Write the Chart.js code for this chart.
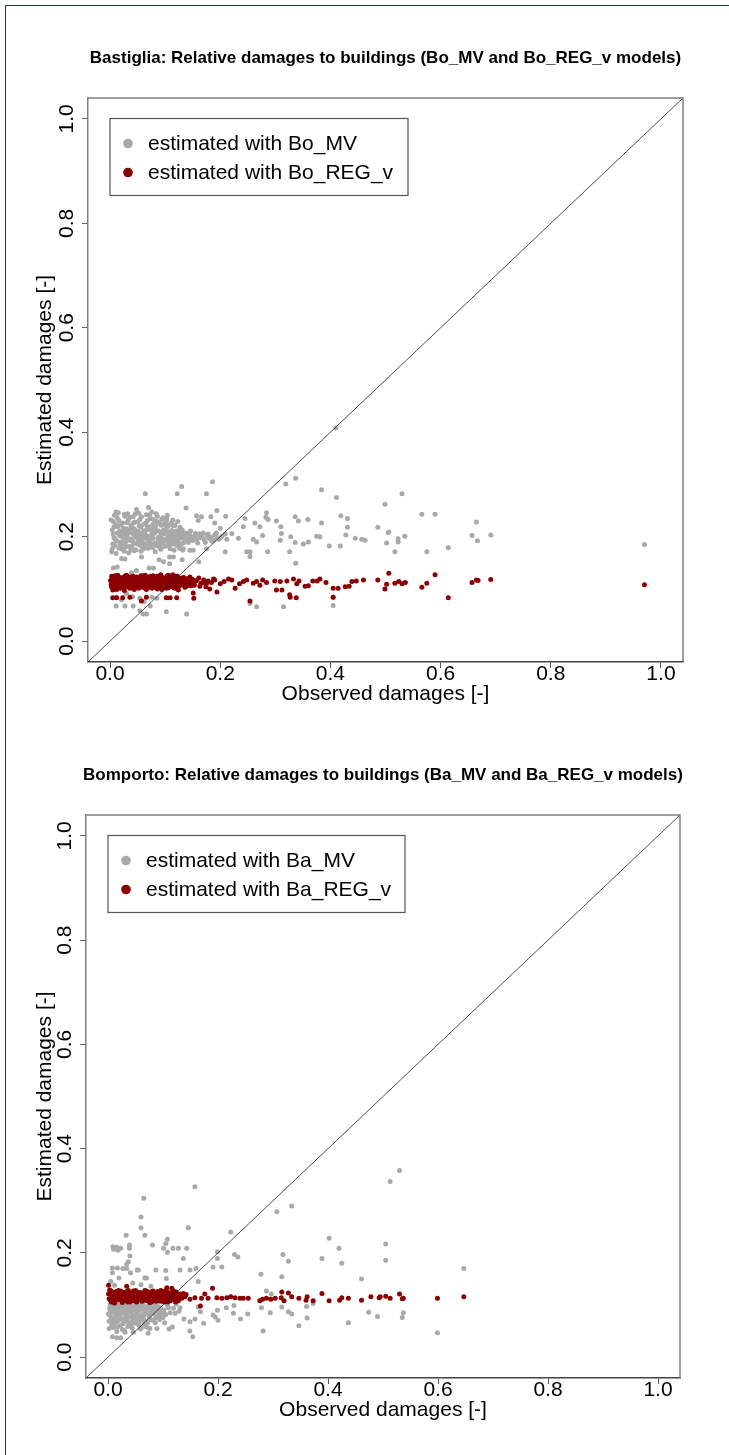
<!DOCTYPE html>
<html>
<head>
<meta charset="utf-8">
<script src="https://cdn.jsdelivr.net/npm/chart.js@4.4.1/dist/chart.umd.min.js"></script>
<style>
  html, body { margin: 0; padding: 0; background: #fff; }
  #page { position: relative; width: 729px; height: 1455px; overflow: hidden; background: #fff; }
  #frame { position: absolute; left: 5px; top: 5px; width: 800px; height: 1500px; border-left: 1px solid #1a1aff; border-top: 1px solid #1a1aff; pointer-events: none; }
  canvas { position: absolute; left: 0; }
  #c1 { top: 0; }
  #c2 { top: 720px; }
</style>
</head>
<body>
<div id="page">
  <canvas id="c1" width="729" height="720"></canvas>
  <canvas id="c2" width="729" height="735"></canvas>
  <div id="frame"></div>
</div>
<script>
// axis ticks (same for both panels and both axes)
var tickValues = [0, 0.2, 0.4, 0.6, 0.8, 1.0];
var tickLabels = ['0.0', '0.2', '0.4', '0.6', '0.8', '1.0'];
var diagonal = [[-0.04, -0.04], [1.04, 1.04]];

// Bastiglia, estimated with Bo_MV  [observed, estimated]
var bastigliaMV = [
  // dense cluster
  [0.004,0.213],[0.005,0.186],[0.006,0.229],[0.007,0.198],[0.003,0.171],[0.008,0.241],[0.006,0.205],
  [0.012,0.192],[0.014,0.219],[0.016,0.178],[0.013,0.236],[0.017,0.203],[0.015,0.246],[0.011,0.168],[0.018,0.211],
  [0.021,0.184],[0.023,0.226],[0.025,0.197],[0.027,0.239],[0.022,0.208],[0.026,0.172],[0.024,0.216],[0.028,0.189],
  [0.031,0.201],[0.033,0.232],[0.035,0.181],[0.037,0.214],[0.032,0.244],[0.036,0.193],[0.034,0.169],[0.038,0.222],
  [0.041,0.206],[0.043,0.188],[0.045,0.228],[0.047,0.175],[0.042,0.238],[0.046,0.199],[0.044,0.215],[0.048,0.252],
  [0.051,0.194],[0.053,0.221],[0.055,0.183],[0.057,0.207],[0.052,0.245],[0.056,0.172],[0.054,0.233],[0.058,0.199],
  [0.061,0.211],[0.063,0.186],[0.065,0.226],[0.067,0.196],[0.062,0.178],[0.066,0.242],[0.064,0.204],[0.068,0.218],
  [0.071,0.191],[0.073,0.235],[0.075,0.202],[0.077,0.179],[0.072,0.214],[0.076,0.247],[0.074,0.196],[0.078,0.224],
  [0.081,0.207],[0.083,0.184],[0.085,0.229],[0.087,0.198],[0.082,0.171],[0.086,0.239],[0.084,0.212],[0.088,0.193],
  [0.091,0.201],[0.093,0.222],[0.095,0.188],[0.097,0.213],[0.092,0.176],[0.096,0.236],[0.094,0.196],[0.098,0.205],
  [0.101,0.194],[0.103,0.217],[0.105,0.199],[0.107,0.182],[0.102,0.228],[0.106,0.208],[0.104,0.241],[0.108,0.191],
  [0.111,0.203],[0.113,0.186],[0.115,0.221],[0.117,0.197],[0.112,0.212],[0.116,0.174],[0.114,0.232],[0.118,0.201],
  [0.121,0.196],[0.123,0.209],[0.125,0.187],[0.127,0.218],[0.122,0.201],[0.126,0.178],[0.124,0.194],
  [0.131,0.199],[0.133,0.188],[0.135,0.206],[0.137,0.195],[0.132,0.174],[0.136,0.202],
  [0.141,0.197],[0.144,0.204],[0.147,0.193],[0.149,0.199],
  [0.153,0.201],[0.158,0.196],[0.162,0.205],[0.167,0.199],[0.171,0.194],[0.176,0.202],[0.180,0.197],[0.185,0.191],[0.190,0.203],[0.195,0.198],
  [0.009,0.196],[0.019,0.201],[0.029,0.205],[0.039,0.196],[0.049,0.202],[0.059,0.189],[0.069,0.201],[0.079,0.206],
  [0.089,0.199],[0.099,0.193],[0.109,0.204],[0.119,0.190],[0.010,0.224],[0.020,0.190],[0.030,0.215],[0.040,0.182],
  [0.050,0.211],[0.060,0.197],[0.070,0.183],[0.080,0.217],[0.090,0.186],[0.100,0.209],[0.110,0.195],[0.120,0.211],
  [0.002,0.232],[0.004,0.177],[0.007,0.219],[0.009,0.183],[0.011,0.247],[0.013,0.207],[0.016,0.231],[0.018,0.185],
  [0.019,0.223],[0.022,0.176],[0.024,0.201],[0.026,0.243],[0.028,0.212],[0.029,0.181],[0.031,0.227],[0.033,0.195],
  [0.034,0.208],[0.036,0.237],[0.038,0.176],[0.039,0.218],[0.041,0.191],[0.042,0.226],[0.044,0.173],[0.046,0.244],
  [0.047,0.209],[0.049,0.186],[0.051,0.229],[0.052,0.203],[0.054,0.192],[0.056,0.218],[0.057,0.238],[0.059,0.176],
  [0.061,0.224],[0.062,0.199],[0.064,0.186],[0.066,0.213],[0.068,0.231],[0.069,0.178],[0.071,0.219],[0.072,0.242],
  [0.074,0.186],[0.076,0.209],[0.078,0.197],[0.079,0.233],[0.081,0.188],[0.083,0.221],[0.084,0.244],[0.086,0.182],
  [0.088,0.211],[0.089,0.226],[0.091,0.178],[0.092,0.208],[0.094,0.233],[0.096,0.191],[0.098,0.224],[0.099,0.181],
  [0.101,0.213],[0.103,0.234],[0.105,0.186],[0.106,0.221],[0.108,0.203],[0.109,0.177],[0.111,0.226],[0.113,0.197],
  [0.114,0.209],[0.116,0.188],[0.118,0.222],[0.119,0.206],[0.121,0.183],[0.123,0.229],[0.124,0.212],[0.126,0.198],
  [0.128,0.205],[0.129,0.186],[0.131,0.213],[0.134,0.196],[0.138,0.207],[0.142,0.189],[0.146,0.211],[0.151,0.193],
  [0.155,0.206],[0.159,0.188],[0.164,0.198],[0.169,0.207],[0.173,0.189],[0.178,0.205],[0.183,0.199],[0.188,0.193],
  [0.193,0.207],[0.198,0.195],[0.203,0.201],
  // scattered, upper
  [0.064,0.282],[0.130,0.296],[0.122,0.282],[0.175,0.282],[0.186,0.305],[0.138,0.255],[0.070,0.256],
  [0.319,0.301],[0.337,0.312],[0.384,0.290],[0.411,0.275],[0.410,0.408],[0.530,0.282],[0.499,0.262],
  [0.566,0.243],[0.590,0.243],[0.575,0.171],[0.419,0.240],[0.431,0.235],[0.431,0.218],[0.486,0.218],
  [0.505,0.208],[0.535,0.201],[0.523,0.196],[0.502,0.188],[0.517,0.171],[0.463,0.193],[0.457,0.195],
  [0.445,0.197],[0.428,0.203],[0.418,0.182],[0.398,0.182],[0.381,0.200],[0.384,0.226],[0.375,0.201],
  [0.360,0.190],[0.351,0.186],[0.359,0.233],[0.336,0.238],[0.342,0.230],[0.328,0.200],[0.336,0.189],
  [0.326,0.171],[0.337,0.149],[0.310,0.219],[0.311,0.206],[0.309,0.193],[0.302,0.230],[0.283,0.237],
  [0.287,0.233],[0.284,0.246],[0.272,0.219],[0.277,0.202],[0.266,0.190],[0.260,0.195],[0.286,0.171],
  [0.254,0.162],[0.254,0.171],[0.248,0.171],[0.242,0.219],[0.245,0.235],[0.263,0.226],[0.209,0.171],
  [0.210,0.239],[0.194,0.250],[0.200,0.216],[0.221,0.206],[0.233,0.197],[0.212,0.195],[0.209,0.205],
  [0.161,0.152],[0.157,0.240],[0.160,0.231],[0.166,0.238],[0.183,0.238],[0.190,0.226],
  [0.665,0.228],[0.657,0.202],[0.667,0.192],[0.691,0.203],[0.614,0.179],[0.523,0.190],[0.506,0.209],[0.970,0.185],
  // between the bands
  [0.006,0.140],[0.013,0.142],[0.021,0.158],[0.027,0.157],[0.039,0.131],[0.048,0.135],[0.057,0.161],
  [0.071,0.140],[0.089,0.156],[0.079,0.140],[0.097,0.152],[0.108,0.161],[0.108,0.148],[0.115,0.161],
  [0.131,0.156],[0.133,0.177],[0.145,0.174],[0.151,0.174],[0.175,0.177],
  // lower
  [0.011,0.084],[0.011,0.067],[0.021,0.079],[0.027,0.067],[0.042,0.067],[0.054,0.058],[0.060,0.052],
  [0.066,0.052],[0.102,0.056],[0.139,0.052],[0.062,0.076],[0.073,0.067],[0.030,0.091],[0.041,0.085],
  [0.054,0.082],[0.076,0.084],[0.254,0.072],[0.266,0.066],[0.315,0.066],[0.405,0.068],[0.405,0.084],[0.085,0.082]
];

// Bastiglia, estimated with Bo_REG_v
var bastigliaREG = [
  [0.002,0.108],[0.004,0.119],[0.006,0.101],[0.008,0.114],[0.003,0.124],[0.007,0.111],[0.005,0.098],[0.009,0.105],
  [0.011,0.116],[0.013,0.103],[0.015,0.121],[0.017,0.109],[0.012,0.099],[0.016,0.113],[0.014,0.126],[0.018,0.106],
  [0.021,0.111],[0.023,0.122],[0.025,0.102],[0.027,0.117],[0.022,0.107],[0.026,0.097],[0.024,0.114],[0.028,0.125],
  [0.031,0.104],[0.033,0.118],[0.035,0.109],[0.037,0.123],[0.032,0.113],[0.036,0.101],[0.034,0.120],[0.038,0.108],
  [0.041,0.115],[0.043,0.102],[0.045,0.119],[0.047,0.107],[0.042,0.124],[0.046,0.111],[0.044,0.099],[0.048,0.116],
  [0.051,0.109],[0.053,0.121],[0.055,0.104],[0.057,0.114],[0.052,0.101],[0.056,0.125],[0.054,0.112],[0.058,0.107],
  [0.061,0.118],[0.063,0.106],[0.065,0.122],[0.067,0.110],[0.062,0.113],[0.066,0.099],[0.064,0.126],[0.068,0.116],
  [0.071,0.103],[0.073,0.117],[0.075,0.108],[0.077,0.121],[0.072,0.112],[0.076,0.101],[0.074,0.124],[0.078,0.110],
  [0.081,0.114],[0.083,0.105],[0.085,0.119],[0.087,0.109],[0.082,0.123],[0.086,0.100],[0.084,0.112],[0.088,0.117],
  [0.091,0.108],[0.093,0.120],[0.095,0.103],[0.097,0.115],[0.092,0.127],[0.096,0.111],[0.094,0.099],[0.098,0.118],
  [0.101,0.113],[0.103,0.106],[0.105,0.121],[0.107,0.109],[0.102,0.117],[0.106,0.102],[0.104,0.125],[0.108,0.111],
  [0.111,0.118],[0.113,0.104],[0.115,0.114],[0.117,0.122],[0.112,0.108],[0.116,0.111],[0.114,0.127],[0.118,0.101],
  [0.121,0.109],[0.123,0.119],[0.125,0.105],[0.127,0.115],[0.122,0.124],[0.126,0.112],[0.124,0.098],[0.128,0.120],
  [0.131,0.113],[0.133,0.107],[0.135,0.121],[0.137,0.110],[0.132,0.117],[0.136,0.103],
  [0.141,0.116],[0.143,0.109],[0.145,0.123],[0.147,0.106],
  [0.001,0.116],[0.003,0.103],[0.005,0.121],[0.007,0.109],[0.009,0.125],[0.010,0.112],[0.012,0.118],[0.014,0.107],
  [0.016,0.123],[0.018,0.114],[0.019,0.101],[0.020,0.119],[0.022,0.116],[0.024,0.104],[0.026,0.121],[0.028,0.110],
  [0.029,0.117],[0.030,0.126],[0.032,0.106],[0.034,0.113],[0.036,0.118],[0.038,0.102],[0.039,0.115],[0.040,0.109],
  [0.042,0.121],[0.044,0.112],[0.046,0.104],[0.048,0.123],[0.049,0.109],[0.050,0.117],[0.052,0.120],[0.054,0.103],
  [0.056,0.108],[0.058,0.118],[0.059,0.125],[0.060,0.111],[0.062,0.102],[0.064,0.115],[0.066,0.120],[0.068,0.105],
  [0.069,0.123],[0.070,0.113],[0.072,0.106],[0.074,0.118],[0.076,0.114],[0.078,0.125],[0.079,0.103],[0.080,0.120],
  [0.082,0.109],[0.084,0.102],[0.086,0.124],[0.088,0.106],[0.089,0.120],[0.090,0.115],[0.092,0.104],[0.094,0.117],
  [0.096,0.122],[0.098,0.107],[0.099,0.113],[0.100,0.121],[0.102,0.101],[0.104,0.116],[0.106,0.126],[0.108,0.104],
  [0.109,0.119],[0.110,0.111],[0.112,0.123],[0.114,0.109],[0.116,0.102],[0.118,0.116],[0.119,0.124],[0.120,0.113],
  [0.122,0.103],[0.124,0.117],[0.126,0.121],[0.128,0.108],[0.130,0.118],[0.133,0.122],[0.136,0.114],[0.139,0.105],
  [0.142,0.120],[0.146,0.112],[0.150,0.118],[0.153,0.107],[0.157,0.116],[0.161,0.121],[0.165,0.111],[0.170,0.117],
  [0.174,0.104],[0.178,0.115],[0.184,0.112],[0.188,0.119],
  // sparse
  [0.139,0.117],[0.148,0.110],[0.154,0.114],[0.163,0.105],[0.169,0.112],[0.175,0.110],[0.181,0.100],
  [0.190,0.117],[0.194,0.094],[0.200,0.110],[0.207,0.114],[0.215,0.119],[0.221,0.117],[0.227,0.101],
  [0.235,0.110],[0.242,0.114],[0.248,0.117],[0.260,0.111],[0.254,0.077],[0.266,0.114],[0.272,0.107],
  [0.277,0.117],[0.284,0.112],[0.299,0.115],[0.302,0.098],[0.312,0.098],[0.309,0.114],[0.321,0.115],
  [0.326,0.089],[0.327,0.084],[0.338,0.083],[0.333,0.119],[0.339,0.110],[0.343,0.115],[0.354,0.105],
  [0.360,0.106],[0.368,0.115],[0.376,0.115],[0.381,0.119],[0.392,0.112],[0.405,0.101],[0.405,0.084],
  [0.414,0.101],[0.427,0.104],[0.434,0.105],[0.439,0.114],[0.447,0.115],[0.460,0.117],[0.486,0.117],
  [0.506,0.130],[0.502,0.109],[0.499,0.100],[0.517,0.111],[0.524,0.114],[0.530,0.110],[0.536,0.112],
  [0.566,0.103],[0.575,0.111],[0.590,0.127],[0.614,0.083],[0.657,0.112],[0.665,0.117],[0.668,0.116],
  [0.691,0.118],[0.970,0.108],
  // lower row
  [0.005,0.083],[0.012,0.083],[0.023,0.083],[0.036,0.084],[0.057,0.077],[0.066,0.084],[0.102,0.083],
  [0.109,0.083],[0.121,0.083],[0.151,0.092],[0.152,0.082]
];

// Bomporto, estimated with Ba_MV
var bomportoMV = [
  // dense lower cluster
  [0.003,0.094],[0.005,0.078],[0.007,0.062],[0.004,0.101],[0.008,0.086],[0.006,0.071],[0.002,0.055],
  [0.012,0.097],[0.014,0.083],[0.016,0.068],[0.013,0.090],[0.017,0.058],[0.011,0.075],[0.018,0.102],
  [0.021,0.088],[0.023,0.073],[0.025,0.096],[0.027,0.064],[0.022,0.081],[0.026,0.053],[0.024,0.099],
  [0.031,0.092],[0.033,0.077],[0.035,0.085],[0.037,0.066],[0.032,0.100],[0.036,0.059],[0.034,0.071],
  [0.041,0.087],[0.043,0.095],[0.045,0.074],[0.047,0.081],[0.042,0.063],[0.046,0.098],[0.044,0.056],
  [0.051,0.091],[0.053,0.079],[0.055,0.100],[0.057,0.068],[0.052,0.084],[0.056,0.061],
  [0.061,0.096],[0.063,0.082],[0.065,0.072],[0.067,0.089],[0.062,0.103],[0.066,0.064],
  [0.071,0.087],[0.073,0.098],[0.075,0.077],[0.077,0.092],[0.072,0.066],
  [0.081,0.094],[0.083,0.083],[0.085,0.101],[0.087,0.075],[0.082,0.088],
  [0.091,0.097],[0.093,0.086],[0.095,0.079],[0.097,0.093],
  [0.102,0.090],[0.108,0.099],[0.113,0.085],[0.119,0.094],[0.124,0.102],[0.129,0.088],
  [0.001,0.083],[0.002,0.069],[0.004,0.088],[0.006,0.097],[0.008,0.074],[0.009,0.058],[0.010,0.091],[0.012,0.066],
  [0.014,0.100],[0.015,0.079],[0.016,0.049],[0.018,0.086],[0.019,0.071],[0.020,0.095],[0.022,0.060],[0.024,0.084],
  [0.025,0.074],[0.027,0.099],[0.028,0.089],[0.029,0.068],[0.030,0.051],[0.032,0.082],[0.034,0.093],[0.036,0.076],
  [0.038,0.088],[0.039,0.062],[0.040,0.097],[0.042,0.078],[0.044,0.069],[0.046,0.090],[0.048,0.073],[0.049,0.102],
  [0.050,0.065],[0.052,0.096],[0.054,0.072],[0.056,0.088],[0.058,0.078],[0.059,0.054],[0.060,0.092],[0.062,0.074],
  [0.064,0.100],[0.066,0.081],[0.068,0.069],[0.069,0.095],[0.070,0.058],[0.074,0.083],[0.076,0.100],[0.078,0.072],
  [0.080,0.086],[0.084,0.093],[0.086,0.066],[0.088,0.079],[0.090,0.089],[0.094,0.072],[0.098,0.085],[0.100,0.076],
  [0.105,0.082],[0.110,0.095],
  [0.008,0.039],[0.016,0.037],[0.023,0.037],[0.031,0.048],[0.046,0.048],[0.061,0.057],[0.073,0.046],
  [0.076,0.055],[0.082,0.071],[0.089,0.055],[0.097,0.077],[0.103,0.066],[0.111,0.054],[0.117,0.058],
  [0.010,0.057],[0.122,0.084],[0.131,0.095],[0.138,0.073],[0.149,0.050],[0.154,0.039],[0.149,0.068],
  [0.158,0.073],[0.164,0.096],[0.168,0.087],[0.174,0.065],[0.191,0.081],[0.200,0.071],[0.195,0.077],
  [0.199,0.090],[0.215,0.095],[0.229,0.099],[0.228,0.084],[0.241,0.073],[0.254,0.083],
  // upper
  [0.158,0.327],[0.065,0.305],[0.060,0.269],[0.060,0.248],[0.067,0.234],[0.033,0.234],[0.039,0.215],
  [0.039,0.209],[0.009,0.212],[0.016,0.211],[0.023,0.209],[0.010,0.207],[0.018,0.205],[0.040,0.194],
  [0.037,0.183],[0.034,0.178],[0.008,0.171],[0.017,0.171],[0.027,0.170],[0.034,0.170],[0.008,0.162],
  [0.041,0.162],[0.053,0.167],[0.067,0.152],[0.081,0.215],[0.101,0.209],[0.108,0.226],[0.105,0.218],
  [0.108,0.201],[0.118,0.209],[0.128,0.209],[0.143,0.209],[0.146,0.248],[0.137,0.189],[0.131,0.167],
  [0.149,0.167],[0.160,0.170],[0.164,0.145],[0.087,0.167],[0.105,0.166],[0.070,0.152],[0.078,0.136],
  [0.055,0.167],[0.106,0.151],[0.005,0.145],[0.012,0.138],[0.020,0.152],[0.045,0.142],[0.060,0.139],
  [0.191,0.173],[0.199,0.202],[0.199,0.189],[0.207,0.173],[0.223,0.240],[0.230,0.197],[0.236,0.192],
  [0.307,0.279],[0.334,0.290],[0.278,0.159],[0.288,0.127],[0.297,0.121],[0.318,0.197],[0.328,0.184],
  [0.316,0.154],[0.402,0.228],[0.420,0.209],[0.425,0.180],[0.389,0.189],[0.461,0.150],[0.505,0.217],
  [0.505,0.186],[0.513,0.337],[0.530,0.358],[0.647,0.170],
  // lower right
  [0.279,0.095],[0.295,0.085],[0.282,0.050],[0.316,0.096],[0.328,0.087],[0.334,0.083],[0.347,0.060],
  [0.362,0.075],[0.361,0.097],[0.373,0.103],[0.437,0.066],[0.474,0.086],[0.490,0.078],[0.537,0.085],
  [0.535,0.076],[0.599,0.047]
];

// Bomporto, estimated with Ba_REG_v
var bomportoREG = [
  [0.002,0.112],[0.004,0.124],[0.006,0.106],[0.008,0.118],[0.003,0.129],[0.007,0.115],
  [0.011,0.121],[0.013,0.109],[0.015,0.126],[0.017,0.113],[0.012,0.104],[0.016,0.118],
  [0.021,0.116],[0.023,0.127],[0.025,0.108],[0.027,0.121],[0.022,0.112],[0.026,0.105],
  [0.031,0.110],[0.033,0.123],[0.035,0.114],[0.037,0.128],[0.032,0.118],[0.036,0.106],
  [0.041,0.119],[0.043,0.108],[0.045,0.124],[0.047,0.112],[0.042,0.115],[0.046,0.127],
  [0.051,0.113],[0.053,0.125],[0.055,0.109],[0.057,0.119],[0.052,0.106],[0.056,0.116],
  [0.061,0.122],[0.063,0.111],[0.065,0.117],[0.067,0.128],[0.062,0.107],[0.066,0.114],
  [0.071,0.108],[0.073,0.120],[0.075,0.114],[0.077,0.125],[0.072,0.117],[0.076,0.105],
  [0.081,0.118],[0.083,0.109],[0.085,0.123],[0.087,0.113],[0.082,0.127],[0.086,0.116],
  [0.091,0.112],[0.093,0.124],[0.095,0.107],[0.097,0.119],[0.092,0.115],[0.096,0.128],
  [0.101,0.116],[0.103,0.110],[0.105,0.122],[0.107,0.113],[0.102,0.106],[0.106,0.119],
  [0.111,0.121],[0.113,0.108],[0.115,0.115],[0.117,0.124],[0.112,0.112],[0.116,0.118],
  [0.121,0.114],[0.123,0.106],[0.125,0.120],[0.127,0.111],[0.122,0.117],
  [0.001,0.121],[0.004,0.110],[0.006,0.127],[0.009,0.114],[0.010,0.106],[0.012,0.124],[0.014,0.116],[0.018,0.110],
  [0.019,0.128],[0.020,0.119],[0.024,0.113],[0.028,0.124],[0.029,0.108],[0.030,0.120],[0.034,0.126],[0.038,0.112],
  [0.039,0.120],[0.040,0.106],[0.044,0.122],[0.048,0.116],[0.049,0.108],[0.050,0.128],[0.054,0.118],[0.058,0.111],
  [0.059,0.124],[0.060,0.116],[0.064,0.109],[0.068,0.121],[0.069,0.112],[0.070,0.127],[0.074,0.110],[0.078,0.118],
  [0.079,0.106],[0.080,0.123],[0.084,0.115],[0.088,0.107],[0.089,0.121],[0.090,0.126],[0.094,0.111],[0.098,0.117],
  [0.099,0.123],[0.100,0.109],[0.104,0.127],[0.108,0.116],[0.109,0.106],[0.110,0.124],[0.114,0.118],[0.118,0.110],
  [0.119,0.127],[0.120,0.120],[0.124,0.125],[0.126,0.115],[0.128,0.108],[0.130,0.119],[0.134,0.113],[0.137,0.122],
  [0.140,0.116],
  // sparse
  [0.001,0.138],[0.034,0.136],[0.107,0.133],[0.116,0.132],[0.125,0.111],[0.131,0.121],[0.142,0.120],
  [0.149,0.111],[0.158,0.114],[0.170,0.113],[0.168,0.098],[0.176,0.121],[0.182,0.113],[0.190,0.132],
  [0.198,0.114],[0.207,0.113],[0.216,0.114],[0.223,0.116],[0.231,0.114],[0.240,0.113],[0.246,0.113],
  [0.255,0.113],[0.276,0.108],[0.281,0.111],[0.288,0.113],[0.296,0.111],[0.304,0.113],[0.315,0.114],
  [0.316,0.125],[0.320,0.108],[0.328,0.123],[0.334,0.116],[0.347,0.113],[0.360,0.109],[0.362,0.116],
  [0.373,0.108],[0.389,0.122],[0.402,0.108],[0.421,0.109],[0.425,0.114],[0.437,0.113],[0.461,0.109],
  [0.478,0.116],[0.493,0.114],[0.495,0.116],[0.505,0.117],[0.513,0.113],[0.530,0.121],[0.535,0.112],
  [0.537,0.113],[0.599,0.113],[0.647,0.116]
];

var GRAY = '#a9a9a9';
var DARKRED = '#8b0000';
var FONT = '"Liberation Sans", Arial, Helvetica, sans-serif';
var W = 729;
var XAXIS_H = 45;

Chart.defaults.font.family = FONT;
Chart.defaults.color = '#000';

function toPoints(arr){
    return arr.map(function(p){ return {x: p[0], y: p[1]}; });
}

// R-like decorations: box, rotated y labels, main title, legend
var rDecor = {
    id: 'rDecor',
    afterDraw: function(chart, args, opts){
        var ctx = chart.ctx;
        var a = chart.chartArea;
        var y = chart.scales.y;
        ctx.save();

        ctx.strokeStyle = '#808080';
        ctx.lineWidth = 1.5;
        ctx.beginPath();
        ctx.moveTo(a.left, a.top);
        ctx.lineTo(a.right, a.top);
        ctx.lineTo(a.right, a.bottom);
        ctx.stroke();

        ctx.fillStyle = '#000';
        ctx.font = '21px ' + FONT;
        ctx.textAlign = 'center';
        ctx.textBaseline = 'middle';
        y.ticks.forEach(function(t, i){
            var py = y.getPixelForValue(t.value);
            ctx.save();
            ctx.translate(a.left - 20.5, py);
            ctx.rotate(-Math.PI / 2);
            ctx.fillText(tickLabels[i], 0, 0);
            ctx.restore();
        });

        ctx.font = 'bold 17px ' + FONT;
        ctx.fillText(opts.title, (a.left + a.right) / 2, opts.titleY);

        // legend
        var lx = a.left + 22, ly = a.top + 20.5;
        ctx.strokeStyle = '#555';
        ctx.lineWidth = 1.2;
        ctx.strokeRect(lx, ly, opts.legendW, 77);
        ctx.font = '21px ' + FONT;
        ctx.textAlign = 'left';
        var row = 0;
        chart.data.datasets.forEach(function(ds){
            if (!ds.label) return;
            var cy = ly + 25 + row * 29;
            ctx.fillStyle = ds.backgroundColor;
            ctx.beginPath();
            ctx.arc(lx + 18, cy, 4.8, 0, Math.PI * 2);
            ctx.fill();
            ctx.fillStyle = '#000';
            ctx.fillText(ds.label, lx + 38, cy + 1);
            row++;
        });
        ctx.restore();
    }
};

function makeChart(id, height, area, mv, reg, labels, title, titleY, legendW){
    var ctx = document.getElementById(id);
    return new Chart(ctx, {
        type: 'scatter',
        data: {
            datasets: [
                {label: labels[0], data: toPoints(mv), backgroundColor: GRAY, borderWidth: 0, pointRadius: 2.5, order: 2},
                {label: labels[1], data: toPoints(reg), backgroundColor: DARKRED, borderWidth: 0, pointRadius: 2.5, order: 1},
                {data: toPoints(diagonal), showLine: true, borderColor: '#222', borderWidth: 0.8, pointRadius: 0, order: 0}
            ]
        },
        options: {
            responsive: false,
            animation: false,
            events: [],
            layout: {padding: {left: 0, top: area.top, right: W - area.right, bottom: height - area.bottom - XAXIS_H}},
            plugins: {
                legend: {display: false},
                tooltip: {enabled: false},
                rDecor: {title: title, titleY: titleY, legendW: legendW}
            },
            scales: {
                x: {
                    type: 'linear', min: -0.04, max: 1.04,
                    afterBuildTicks: function(s){ s.ticks = tickValues.map(function(v){ return {value: v}; }); },
                    afterFit: function(s){ s.height = XAXIS_H; },
                    ticks: {font: {size: 21}, color: '#000', padding: -6, maxRotation: 0, autoSkip: false,
                        callback: function(v, i){ return tickLabels[i]; }},
                    grid: {drawOnChartArea: false, drawTicks: true, tickLength: 6, color: '#555', lineWidth: 1},
                    border: {display: true, color: '#444', width: 1.5},
                    title: {display: true, text: 'Observed damages [-]', font: {size: 21}, color: '#000', padding: {top: 0, bottom: 0}}
                },
                y: {
                    type: 'linear', min: -0.04, max: 1.04,
                    afterBuildTicks: function(s){ s.ticks = tickValues.map(function(v){ return {value: v}; }); },
                    afterFit: function(s){ s.width = area.left; },
                    ticks: {display: false},
                    grid: {drawOnChartArea: false, drawTicks: true, tickLength: 6, color: '#666', lineWidth: 1},
                    border: {display: true, color: '#808080', width: 1.5},
                    title: {display: true, text: 'Estimated damages [-]', font: {size: 21}, color: '#000', padding: {top: 33, bottom: 0}}
                }
            }
        },
        plugins: [rDecor]
    });
}

makeChart('c1', 720, {left: 88, right: 683, top: 98, bottom: 662}, bastigliaMV, bastigliaREG,
    ['estimated with Bo_MV', 'estimated with Bo_REG_v'],
    'Bastiglia: Relative damages to buildings (Bo_MV and Bo_REG_v models)', 58, 298);

makeChart('c2', 735, {left: 86, right: 680, top: 95, bottom: 658}, bomportoMV, bomportoREG,
    ['estimated with Ba_MV', 'estimated with Ba_REG_v'],
    'Bomporto: Relative damages to buildings (Ba_MV and Ba_REG_v models)', 55, 297);
</script>
</body>
</html>
